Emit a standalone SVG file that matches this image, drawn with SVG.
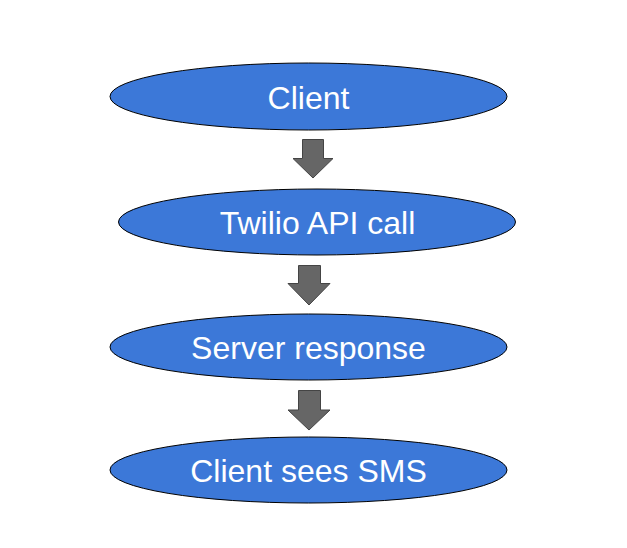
<svg xmlns="http://www.w3.org/2000/svg" width="627" height="548" viewBox="0 0 627 548">
<style>
.node ellipse{fill:#3c78d8;stroke:#000;stroke-width:1}
.node text{fill:#fff;font-family:"Liberation Sans",Arial,sans-serif;font-size:32px;text-anchor:middle}
.arrow{fill:#666;stroke:#444;stroke-width:1}
</style>
<rect width="627" height="548" fill="#fff"/>
<g id="n1" class="node"><ellipse cx="308.5" cy="96.5" rx="198.5" ry="33.5"/><text x="308.5" y="108.5">Client</text></g>
<g id="n2" class="node"><ellipse cx="317" cy="222" rx="198.5" ry="33"/><text x="317.5" y="233.5">Twilio API call</text></g>
<g id="n3" class="node"><ellipse cx="308.5" cy="347" rx="198.5" ry="33"/><text x="308.5" y="358.5">Server response</text></g>
<g id="n4" class="node"><ellipse cx="308.5" cy="470" rx="198.5" ry="33"/><text x="308.5" y="482">Client sees SMS</text></g>
<g id="connectors">
<path class="arrow" d="M302.5 139.5H323.5V158.5H333L313 178L293 158.5H302.5Z"/>
<path class="arrow" d="M298.5 265.5H320.5V283.5H330L309 305L288 283.5H298.5Z"/>
<path class="arrow" d="M298.5 390.5H320.5V410H330L309 430L288 410H298.5Z"/>
</g>
</svg>
